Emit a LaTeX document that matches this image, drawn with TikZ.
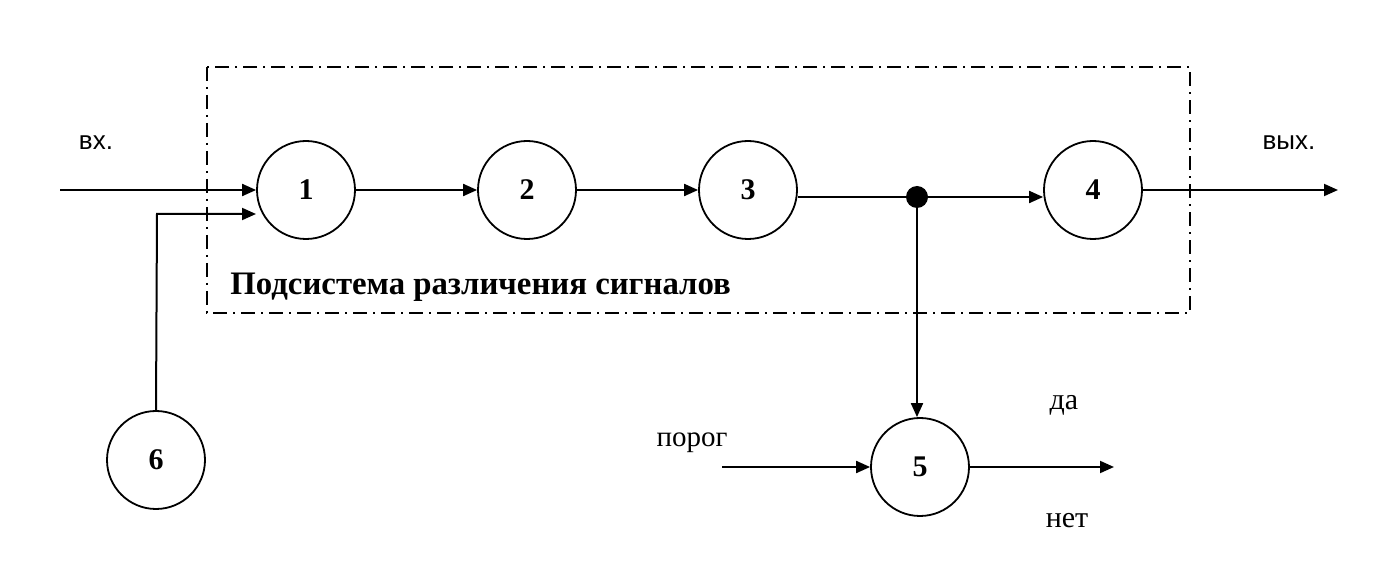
\documentclass[tikz,border=0pt]{standalone}
\usepackage{fontspec}
\setmainfont{Liberation Serif}
\newfontfamily\lsans{Liberation Sans}
\usetikzlibrary{arrows.meta}
\begin{document}
\begin{tikzpicture}[x=0.5pt,y=-0.5pt,
  blk/.style={circle,draw,line width=0.9pt,minimum size=49pt,inner sep=0pt,font=\fontsize{15}{17}\selectfont\bfseries},
  conn/.style={line width=1pt},
  arr/.style={conn,-{Triangle[length=7pt,width=6pt]}},
  lbl/.style={font=\fontsize{14.5}{16}\selectfont},
  slbl/.style={font=\lsans\fontsize{13}{15}\selectfont},
  dashdot/.style={line width=1pt,dash pattern=on 7pt off 3pt on 1pt off 3pt}]
\useasboundingbox (0,0) rectangle (1389,561);
\draw[dashdot] (207,67) rectangle (1190,313);
\node[blk] (n1) at (306,190) {1};
\node[blk] (n2) at (527,190) {2};
\node[blk] (n3) at (748,190) {3};
\node[blk] (n4) at (1093,190) {4};
\node[blk] (n5) at (920,467) {5};
\node[blk] (n6) at (156,460) {6};
\coordinate (in) at (60,190);
\coordinate (c6) at (157,214);
\coordinate (e6) at (256,214);
\coordinate (dot) at (917,197);
\coordinate (out) at (1338,190);
\coordinate (thr) at (722,467);
\coordinate (yes) at (1114,467);
\node[slbl] (lin) at (96,143) {вх.};
\node[slbl] (lout) at (1289,143) {вых.};
\node[lbl] (lthr) at (692,443) {порог};
\node[lbl,font=\fontsize{15}{17}\selectfont] (lyes) at (1064,405) {да};
\node[lbl,font=\fontsize{15}{17}\selectfont] (lno) at (1067,521) {нет};
\node[font=\fontsize{16.4}{18}\selectfont\bfseries,anchor=west,inner sep=0pt] (title) at (230,287) {Подсистема различения сигналов};
\draw[arr] (in) -- (n1.west);
\draw[arr] (n6.north) -- (c6) -- (e6);
\draw[arr] (n1) -- (n2);
\draw[arr] (n2) -- (n3);
\draw[conn] (dot -| n3.east) -- (dot);
\draw[arr] (dot) -- (dot -| n4.west);
\draw[arr] (dot) -- (dot |- n5.north);
\fill (dot) circle (5.5pt);
\draw[arr] (n4) -- (out);
\draw[arr] (thr) -- (n5);
\draw[arr] (n5) -- (yes);
\end{tikzpicture}
\end{document}
